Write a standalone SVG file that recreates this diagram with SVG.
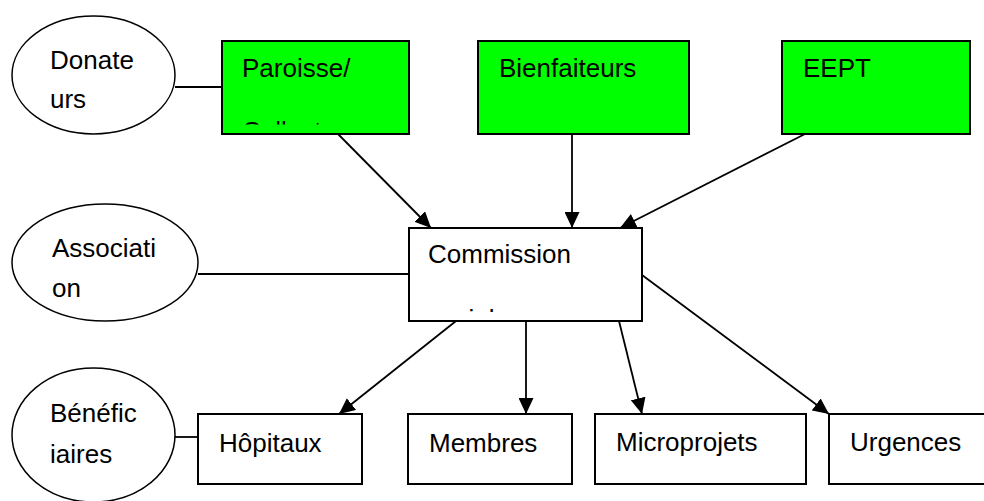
<svg xmlns="http://www.w3.org/2000/svg" width="984" height="501" viewBox="0 0 984 501">
  <style>
    .box { fill: #ffffff; stroke: #000000; stroke-width: 2; }
    .green { fill: #00ff00; stroke: #000000; stroke-width: 2; }
    .ell { fill: #ffffff; stroke: #000000; stroke-width: 1.5; }
    .lbl { font-family: "Liberation Sans", Arial, sans-serif; font-size: 26px; fill: #000000; }
    .conn { stroke: #000000; stroke-width: 1.8; fill: none; }
    .arrow { stroke: #000000; stroke-width: 1.8; fill: none; marker-end: url(#ah); }
  </style>
  <defs>
    <marker id="ah" markerUnits="userSpaceOnUse" viewBox="0 0 16 15" refX="16" refY="7.5" markerWidth="16" markerHeight="15" orient="auto">
      <path d="M0,0 L16,7.5 L0,15 z" fill="#000000"/>
    </marker>
    <clipPath id="clipParoisse"><rect x="222" y="41" width="187" height="83.5"/></clipPath>
    <clipPath id="clipCommission"><rect x="409" y="228" width="233" height="84"/></clipPath>
  </defs>
  <rect width="984" height="501" fill="#ffffff"/>

  <g id="connectors">
    <line class="conn" x1="175" y1="87" x2="222" y2="87"/>
    <line class="conn" x1="198" y1="274" x2="409" y2="274"/>
    <line class="conn" x1="175" y1="437" x2="198" y2="437"/>
    <line class="arrow" x1="338" y1="134" x2="431" y2="228"/>
    <line class="arrow" x1="572" y1="134" x2="572" y2="228"/>
    <line class="arrow" x1="805" y1="134" x2="620" y2="228"/>
    <line class="arrow" x1="456" y1="321" x2="339" y2="414"/>
    <line class="arrow" x1="526" y1="321" x2="526" y2="414"/>
    <line class="arrow" x1="619" y1="321" x2="642" y2="414"/>
    <line class="arrow" x1="642" y1="275" x2="829" y2="414"/>
  </g>

  <g id="donateurs">
    <ellipse class="ell" cx="93.5" cy="75" rx="81.5" ry="59"/>
    <text class="lbl" x="50" y="69">Donate</text>
    <text class="lbl" x="50" y="108">urs</text>
  </g>
  <g id="association">
    <ellipse class="ell" cx="105" cy="262.5" rx="93" ry="58.5"/>
    <text class="lbl" x="52" y="257">Associati</text>
    <text class="lbl" x="52" y="297">on</text>
  </g>
  <g id="beneficiaires">
    <ellipse class="ell" cx="93.5" cy="435" rx="81.5" ry="67"/>
    <text class="lbl" x="50" y="422">Bénéfic</text>
    <text class="lbl" x="50" y="463">iaires</text>
  </g>

  <g id="paroisse">
    <rect class="green" x="222" y="41" width="187" height="93"/>
    <text class="lbl" x="242" y="77">Paroisse/</text>
    <text class="lbl" x="242" y="140" clip-path="url(#clipParoisse)">Collecte</text>
  </g>
  <g id="bienfaiteurs">
    <rect class="green" x="478" y="41" width="211" height="93"/>
    <text class="lbl" x="499" y="77">Bienfaiteurs</text>
  </g>
  <g id="eept">
    <rect class="green" x="782" y="41" width="188" height="93"/>
    <text class="lbl" x="803" y="77">EEPT</text>
  </g>

  <g id="commission">
    <rect class="box" x="409" y="228" width="233" height="93"/>
    <text class="lbl" x="428" y="263">Commission</text>
    <text class="lbl" x="428" y="328" clip-path="url(#clipCommission)">sociale</text>
  </g>

  <g id="hopitaux">
    <rect class="box" x="198" y="414" width="164" height="70"/>
    <text class="lbl" x="219" y="452">Hôpitaux</text>
  </g>
  <g id="membres">
    <rect class="box" x="408" y="414" width="164" height="70"/>
    <text class="lbl" x="429" y="452">Membres</text>
  </g>
  <g id="microprojets">
    <rect class="box" x="595" y="414" width="211" height="70"/>
    <text class="lbl" x="616" y="451">Microprojets</text>
  </g>
  <g id="urgences">
    <rect class="box" x="829" y="414" width="170" height="70"/>
    <text class="lbl" x="850" y="451">Urgences</text>
  </g>
</svg>
